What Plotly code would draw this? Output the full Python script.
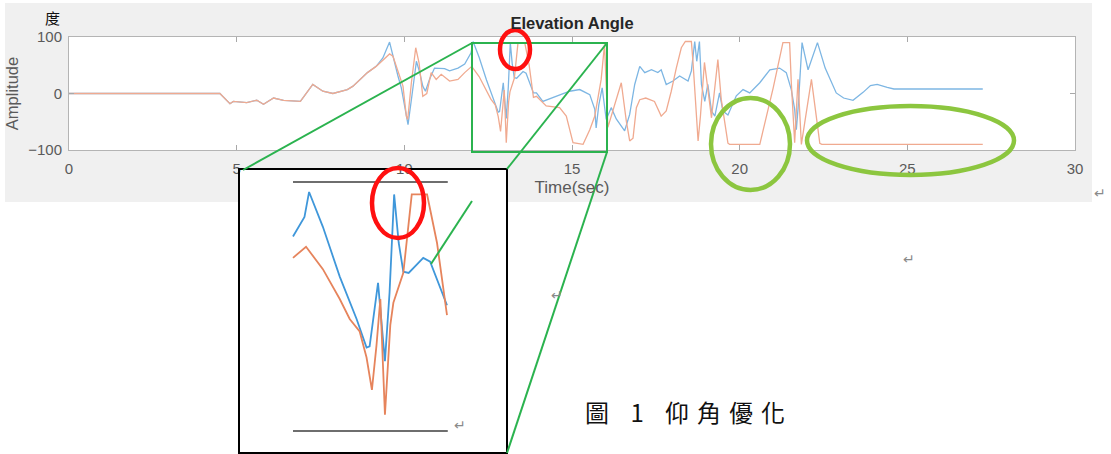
import numpy as np
import plotly.graph_objects as go

W, H = 1111, 454

# ---------------- data ----------------
time_blue = [
    0, 4.5, 4.8, 4.9, 5.3, 5.6, 5.8, 6.1, 6.4, 6.9,
    7.27, 7.57, 7.87, 8.3, 8.47, 8.9, 9.16, 9.36, 9.56, 9.66,
    9.81, 9.91, 10.01, 10.11, 10.21, 10.36, 10.46, 10.55, 10.63, 10.75,
    10.9, 11.2, 11.35, 11.6, 11.8, 11.99, 12.05, 12.23, 12.45, 12.67,
    12.8, 12.84, 12.95, 13.04, 13.1, 13.16, 13.22, 13.28, 13.35,
    13.54, 13.63, 13.85, 13.94, 14.13, 14.53, 14.93, 15.23, 15.53, 15.68,
    15.72, 15.8, 15.9, 16.02, 16.17, 16.32, 16.57, 16.72, 16.87, 17.02,
    17.17, 17.37, 17.56, 17.66, 17.81, 18.01, 18.21, 18.46, 18.56, 18.66,
    18.72, 18.8, 18.86, 18.96, 19.05, 19.16, 19.26, 19.4, 19.5, 19.65,
    19.9, 20.1, 20.3, 20.6, 20.9, 21.19, 21.39, 21.54, 21.64, 21.69,
    21.75, 21.86, 22.04, 22.32, 22.55, 22.88, 23.1, 23.38, 23.68, 23.9,
    24.1, 24.4, 24.6, 27.25,
]
amp_blue = [
    0, 0, -18, -14, -16, -12, -19, -8, -12, -14,
    16, 4, 0, 7, 13, 37, 48, 63, 91, 66,
    31, 10, -22, -55, -11, 57, 37, 13, 4, 25,
    45, 44, 40, 45, 52, 72, 92, 64, 24, -10,
    -33, -32, 19, -44, 11, 90, 51, 28, 27,
    39, 36, 1, 1, -14, -5, 4, 7, -2, -28,
    -61, -20, 10, -46, -25, -45, -66, -37, 16, 48,
    37, 42, 37, 42, 16, 22, 31, 22, 40, 92,
    57, 92, 16, -14, 16, -31, -40, 1, -31, -38,
    -4, 7, 1, 19, 42, 45, 37, 7, -28, -64,
    -20, 90, 42, 90, 45, 1, -8, -12, 2, 14,
    16, 11, 8, 8,
]

time_orange = [
    0, 4.5, 4.8, 4.9, 5.3, 5.6, 5.8, 6.1, 6.4, 6.9,
    7.27, 7.57, 7.87, 8.3, 8.47, 8.9, 9.16, 9.56, 9.66, 9.81,
    9.96, 10.06, 10.1, 10.21, 10.34, 10.44, 10.55, 10.67, 10.8, 10.95,
    11.1, 11.35, 11.6, 11.8, 12.01, 12.23, 12.45, 12.58, 12.71, 12.8,
    12.87, 12.93, 12.98, 13.04, 13.11, 13.15, 13.24, 13.28, 13.39, 13.59,
    13.72, 13.85, 13.94, 14.23, 14.63, 14.83, 15.03, 15.33, 15.53, 15.68,
    15.87, 15.97, 16.07, 16.47, 16.62, 16.72, 16.82, 16.92, 17.02, 17.2,
    17.46, 17.66, 17.81, 17.96, 18.11, 18.26, 18.38, 18.56, 18.61, 18.76,
    18.83, 18.95, 19.16, 19.35, 19.45, 19.65, 19.7, 20.6, 20.8, 21.0,
    21.29, 21.49, 21.54, 21.64, 21.74, 21.84, 22.14, 22.39, 22.45, 27.25,
]
amp_orange = [
    0, 0, -18, -14, -16, -12, -19, -8, -12, -14,
    16, 4, 0, 7, 13, 37, 48, 70, 66, 40,
    13, -40, -46, 19, 81, 54, -5, 0, 37, 25,
    34, 22, 25, 37, 48, 30, 6, -10, -20, -41,
    -67, -31, 6, -87, -15, 3, 19, 27, 90, 90,
    51, -7, -5, -22, -25, -40, -87, -90, -64, -40,
    25, 87, -60, 19, -49, -84, -79, -25, -11, -8,
    -14, -40, -31, 4, 45, 81, 92, 92, 54, -84,
    -40, 55, -43, 60, -10, -88, -90, -90, -40, 10,
    90, 90, 19, -87, 25, -90, 25, -88, -90, -90,
]

x_ticks = [0, 5, 10, 15, 20, 25, 30]
y_ticks = [-100, 0, 100]
inset_window = [11.84, 13.85]

title_text = "Elevation Angle"
x_title = "Time(sec)"
y_title = "Amplitude"
unit_label = "度"
caption = "圖 1 仰角優化"
return_mark = "↵"

# ---------------- helpers (pixel -> paper) ----------------
def PX(x):
    return x / W

def PY(y):
    return 1 - y / H

BLUE_MAIN, ORANGE_MAIN = "#7db6e3", "#f0aa90"
BLUE_INSET, ORANGE_INSET = "#3f97da", "#e6845c"
SANS = "Liberation Sans, Arial, sans-serif"

fig = go.Figure()

# main plot traces
fig.add_trace(go.Scatter(x=time_blue, y=amp_blue, mode="lines",
                         line=dict(color=BLUE_MAIN, width=1.3), xaxis="x", yaxis="y"))
fig.add_trace(go.Scatter(x=time_orange, y=amp_orange, mode="lines",
                         line=dict(color=ORANGE_MAIN, width=1.3), xaxis="x", yaxis="y"))

# inset traces (same data, restricted to the zoom window)
def window(t, v, lo, hi):
    t = np.asarray(t, float)
    v = np.asarray(v, float)
    inner = (t > lo) & (t < hi)
    tt = np.concatenate([[lo], t[inner], [hi]])
    vv = np.concatenate([[np.interp(lo, t, v)], v[inner], [np.interp(hi, t, v)]])
    return tt, vv

tb, vb = window(time_blue, amp_blue, *inset_window)
to, vo = window(time_orange, amp_orange, *inset_window)
fig.add_trace(go.Scatter(x=tb, y=vb, mode="lines",
                         line=dict(color=BLUE_INSET, width=1.8), xaxis="x2", yaxis="y2"))
fig.add_trace(go.Scatter(x=to, y=vo, mode="lines",
                         line=dict(color=ORANGE_INSET, width=1.8), xaxis="x2", yaxis="y2"))

# inset geometry: frame in pixels, data window mapped to inner pixels
frame_l, frame_r, frame_t, frame_b = 239, 507, 169, 453
data_l, data_r, data_t, data_b = 293, 447, 182, 431
sx = (data_r - data_l) / (inset_window[1] - inset_window[0])
x2_range = [inset_window[0] - (data_l - frame_l) / sx,
            inset_window[1] + (frame_r - data_r) / sx]
sy = (data_b - data_t) / 200.0
y2_range = [-100 - (frame_b - data_b) / sy, 100 + (data_t - frame_t) / sy]

AX_FONT = dict(family=SANS, size=15, color="#5a5a5a")

fig.update_layout(
    width=W, height=H, autosize=False,
    margin=dict(l=0, r=0, t=0, b=0, pad=0, autoexpand=False),
    paper_bgcolor="white", plot_bgcolor="white",
    showlegend=False,
    title=dict(text=f"<b>{title_text}</b>", x=PX(572), y=PY(23),
               xanchor="center", yanchor="middle", xref="paper", yref="paper",
               automargin=False,
               font=dict(family=SANS, size=16.5, color="#262626")),
    xaxis=dict(domain=[PX(69), PX(1075)], range=[0, 30], tickvals=x_ticks,
               ticks="inside", ticklen=5, tickcolor="#a8a8a8", tickwidth=1,
               showline=True, linecolor="#b4b4b4", linewidth=1, mirror="ticks",
               showgrid=False, zeroline=False, tickfont=AX_FONT, ticklabelstandoff=5,
               automargin=False,
               title=dict(text=x_title, standoff=5,
                          font=dict(family=SANS, size=17, color="#5a5a5a")),
               anchor="y"),
    yaxis=dict(domain=[PY(150), PY(37)], range=[-100, 100], tickvals=y_ticks,
               ticks="inside", ticklen=5, tickcolor="#a8a8a8", tickwidth=1,
               showline=True, linecolor="#b4b4b4", linewidth=1, mirror="ticks",
               showgrid=False, zeroline=False, tickfont=AX_FONT, ticklabelstandoff=3,
               automargin=False,
               title=dict(text=y_title, standoff=5,
                          font=dict(family=SANS, size=16.5, color="#5a5a5a")),
               anchor="x"),
    xaxis2=dict(domain=[PX(frame_l), PX(frame_r)], range=x2_range, visible=False,
                anchor="y2", fixedrange=True, automargin=False),
    yaxis2=dict(domain=[PY(frame_b), PY(frame_t)], range=y2_range, visible=False,
                anchor="x2", fixedrange=True, automargin=False),
)

shapes = []
# grey screenshot background and white plot areas
shapes.append(dict(type="rect", xref="paper", yref="paper", layer="below",
                   x0=PX(5), x1=PX(1092), y0=PY(202), y1=PY(3),
                   fillcolor="#f0f0f0", line=dict(width=0)))
shapes.append(dict(type="rect", xref="x domain", yref="y domain", layer="below",
                   x0=0, x1=1, y0=0, y1=1, fillcolor="white", line=dict(width=0)))
shapes.append(dict(type="rect", xref="x2 domain", yref="y2 domain", layer="below",
                   x0=0, x1=1, y0=0, y1=1, fillcolor="white", line=dict(width=0)))
# inset frame and its grey limit lines
shapes.append(dict(type="rect", xref="paper", yref="paper", layer="above",
                   x0=PX(frame_l), x1=PX(frame_r), y0=PY(frame_b), y1=PY(frame_t),
                   line=dict(color="black", width=2)))
for lim in (-100, 100):
    shapes.append(dict(type="line", xref="x2", yref="y2", layer="above",
                       x0=inset_window[0], x1=inset_window[1] + 0.01, y0=lim, y1=lim,
                       line=dict(color="#6e6e6e", width=1.8)))
# green zoom box and connector lines
G = "#2bb34f"
shapes.append(dict(type="rect", xref="paper", yref="paper", layer="above",
                   x0=PX(472), x1=PX(607), y0=PY(152), y1=PY(43),
                   line=dict(color=G, width=2)))
for (ax, ay, bx, by) in [(472, 43, 243, 170), (607, 43, 507, 169),
                         (607, 152, 507, 453), (431, 264, 472, 201)]:
    shapes.append(dict(type="line", xref="paper", yref="paper", layer="above",
                       x0=PX(ax), y0=PY(ay), x1=PX(bx), y1=PY(by),
                       line=dict(color=G, width=2)))
# highlight ellipses
for (x0, y0, x1, y1, col) in [(500, 30, 530, 69, "#ff1010"),
                              (372, 168, 424, 238, "#ff1010"),
                              (711, 98, 790, 190, "#8cc63f"),
                              (807, 106, 1014, 175, "#8cc63f")]:
    shapes.append(dict(type="circle", xref="paper", yref="paper", layer="above",
                       x0=PX(x0), x1=PX(x1), y0=PY(y1), y1=PY(y0),
                       line=dict(color=col, width=4.5)))
fig.update_layout(shapes=shapes)

annotations = [
    dict(text=unit_label, x=PX(52), y=PY(18), xref="paper", yref="paper",
         showarrow=False, xanchor="center", yanchor="middle",
         font=dict(family="Noto Sans CJK TC", size=15, color="#111111")),
    dict(text=f"<span style='letter-spacing:8px'>{caption}</span>", x=PX(583), y=PY(411),
         xref="paper", yref="paper", showarrow=False, xanchor="left", yanchor="middle",
         font=dict(family="Noto Sans CJK TC", size=24, color="#111111")),
]
for (mx, my) in [(1100, 193), (909, 259), (557, 295), (460, 425)]:
    annotations.append(dict(text=return_mark, x=PX(mx), y=PY(my), xref="paper", yref="paper",
                            showarrow=False, xanchor="center", yanchor="middle",
                            font=dict(family="DejaVu Sans", size=14, color="#8a8a8a")))
fig.update_layout(annotations=annotations)

fig.write_html("out.html")
